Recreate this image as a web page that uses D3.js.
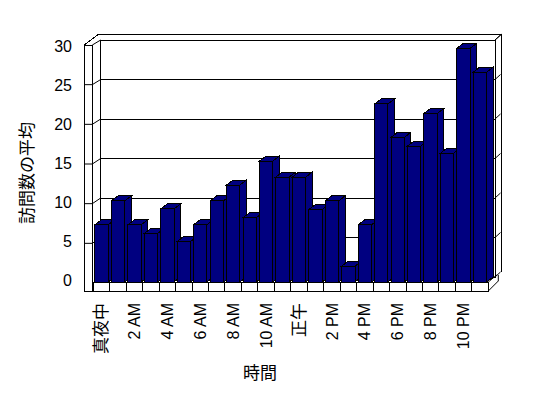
<!DOCTYPE html>
<html>
<head>
<meta charset="utf-8">
<script src="https://cdn.jsdelivr.net/npm/d3@7"></script>
<style>
  body { margin: 0; background: #fff; }
  svg { display: block; }
  text { fill: #000; }
  .latin { font-family: "Liberation Sans", Arial, sans-serif; font-size: 16px; }
  .cjk { font-family: "Noto Sans CJK JP", sans-serif; font-size: 17px; }
  .frame { fill: none; stroke: #000; stroke-width: 1; }
</style>
</head>
<body>
<div id="chart"></div>
<script>
// average visits per hour of day
const hours = d3.range(24);
const visits = [7.2, 10.2, 7.2, 6.1, 9.2, 5.1, 7.2, 10.2, 12.2, 8.1, 15.2, 13.2,
                13.2, 9.1, 10.2, 2.0, 7.2, 22.4, 18.2, 17.1, 21.2, 16.2, 29.4, 26.4];
const hourLabels = ["真夜中", "", "2 AM", "", "4 AM", "", "6 AM", "", "8 AM", "", "10 AM", "",
                    "正午", "", "2 PM", "", "4 PM", "", "6 PM", "", "8 PM", "", "10 PM", ""];
const yTicks = [0, 5, 10, 15, 20, 25, 30];
const yTitle = "訪問数の平均";
const xTitle = "時間";

const width = 548, height = 398;
const barColor = "#000080";
const isCjk = s => /[^\x00-\x7f]/.test(s);

const svg = d3.select("#chart").append("svg")
    .attr("width", width)
    .attr("height", height);

// scales: front plane (bars), wall front face, back wall
const x = d3.scaleBand().domain(hours).range([93.3, 488.3]).paddingInner(0.19).paddingOuter(0.1);
const xSlot = d3.scaleLinear().domain([0, 24]).range([93.3, 488.3]);
const yBar = d3.scaleLinear().domain([0, 30]).range([282, 43.5]);
const yWall = d3.scaleLinear().domain([0, 30]).range([283, 45]);
const yBack = d3.scaleLinear().domain([0, 30]).range([277, 40]);
const yLab = d3.scaleLinear().domain([0, 30]).range([280, 46.7]);

// bar depth offset
const dx = 6.5, dy = -5;

const frame = svg.append("g").attr("class", "frame").attr("shape-rendering", "crispEdges");

// back wall
frame.append("rect").attr("x", 100.7).attr("y", yBack(30)).attr("width", 495 - 100.7).attr("height", yBack(0) - yBack(30))
    .style("fill", "#fff");
frame.selectAll("line.grid")
    .data(yTicks.filter(d => d > 0))
    .enter().append("line")
    .attr("x1", 100.7).attr("x2", 495)
    .attr("y1", d => yBack(d)).attr("y2", d => yBack(d));
// right side of back wall
svg.append("g").attr("class", "frame")
    .selectAll("line")
    .data(yTicks)
    .enter().append("line")
    .attr("x1", 495).attr("x2", 500.5)
    .attr("y1", d => yBack(d)).attr("y2", d => yBack(d) - 5);
frame.append("path").attr("d", "M84.3,45 L98.3,34.3 L501.5,34.3 L501.5,272");
svg.append("path").attr("class", "frame").attr("d", "M495,40 L501.5,34.3");

// left wall
frame.append("rect").attr("x", 84.3).attr("y", 45).attr("width", 8).attr("height", 291 - 45).style("fill", "#fff");
svg.append("path").attr("class", "frame").attr("d", "M92.3,45 L100.7,40");
const wallTicks = svg.append("g").attr("class", "frame");
yTicks.filter(d => d > 0 && d < 30).forEach(d => {
    wallTicks.append("path")
        .attr("d", `M84.3,${yWall(d)} L92.3,${yWall(d)} L100.7,${yBack(d)}`);
});

// floor
frame.append("rect").attr("x", 93.3).attr("y", 282).attr("width", 488.3 - 93.3).attr("height", 9).style("fill", "#fff");
frame.selectAll("line.tick")
    .data(d3.range(25))
    .enter().append("line")
    .attr("x1", d => xSlot(d)).attr("x2", d => xSlot(d))
    .attr("y1", 282).attr("y2", 291);
svg.append("path").attr("class", "frame").attr("d", "M488.3,291 L498.3,281 L498.3,275 M488.3,282 L496.7,275");

// bars
const bars = svg.append("g")
    .selectAll("g")
    .data(visits)
    .enter().append("g")
    .attr("shape-rendering", "crispEdges");

const bw = x.bandwidth();
bars.append("path")
    .attr("d", (d, i) => {
        const x0 = x(i) + bw, y0 = yBar(0), y1 = yBar(d);
        return `M${x0},${y1} L${x0 + dx},${y1 + dy} L${x0 + dx},${y0 + dy} L${x0},${y0} Z`;
    })
    .style("fill", barColor).style("stroke", "#000");
bars.append("path")
    .attr("d", (d, i) => {
        const x0 = x(i), y1 = yBar(d);
        return `M${x0},${y1} L${x0 + dx},${y1 + dy} L${x0 + bw + dx},${y1 + dy} L${x0 + bw},${y1} Z`;
    })
    .style("fill", barColor).style("stroke", "#000");
bars.append("rect")
    .attr("x", (d, i) => x(i))
    .attr("y", d => yBar(d))
    .attr("width", bw)
    .attr("height", d => yBar(0) - yBar(d))
    .style("fill", barColor).style("stroke", "#000");

// y labels
svg.append("g")
    .selectAll("text")
    .data(yTicks)
    .enter().append("text")
    .attr("class", "latin")
    .attr("x", 72)
    .attr("y", d => yLab(d))
    .attr("dy", "0.35em")
    .attr("text-anchor", "end")
    .text(d => d);

// x labels
svg.append("g")
    .selectAll("text")
    .data(hourLabels.map((t, i) => ({t, i})).filter(d => d.t))
    .enter().append("text")
    .attr("class", d => isCjk(d.t) ? "cjk" : "latin")
    .attr("transform", d => `translate(${(xSlot(d.i) + xSlot(d.i + 1)) / 2}, 303) rotate(-90)`)
    .attr("dy", "0.35em")
    .attr("text-anchor", "end")
    .text(d => d.t);

// axis titles
svg.append("text")
    .attr("class", "cjk")
    .attr("transform", "translate(27, 173) rotate(-90)")
    .attr("dy", "0.35em")
    .attr("text-anchor", "middle")
    .text(yTitle);

svg.append("text")
    .attr("class", "cjk")
    .attr("x", 260)
    .attr("y", 373)
    .attr("dy", "0.35em")
    .attr("text-anchor", "middle")
    .text(xTitle);
</script>
</body>
</html>
